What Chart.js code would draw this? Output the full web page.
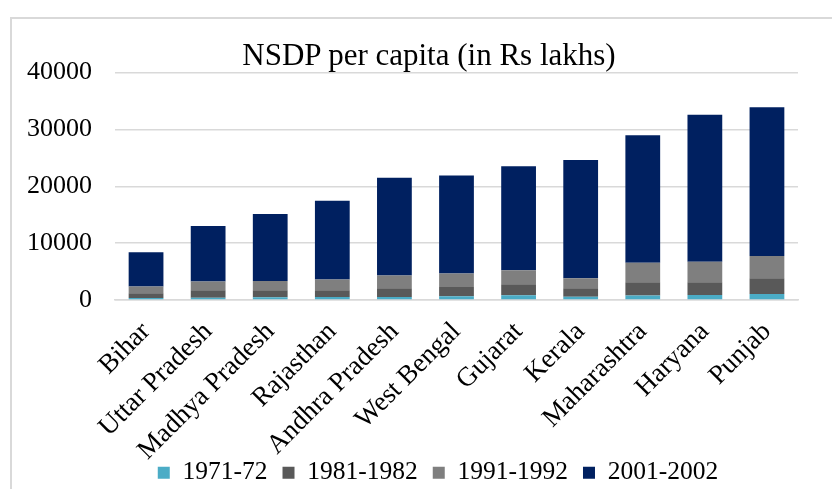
<!DOCTYPE html>
<html>
<head>
<meta charset="utf-8">
<script src="https://cdn.jsdelivr.net/npm/chart.js@4"></script>
<style>
  html, body { margin: 0; padding: 0; background: #fff; }
  body { width: 832px; height: 489px; position: relative; overflow: hidden; }
  #frame { position: absolute; left: 10px; top: 17px; width: 840px; height: 500px; border: 2px solid #d9d9d9; box-sizing: border-box; }
  #c { position: absolute; left: 0; top: 0; }
  #title { position: absolute; left: 0; top: 39px; width: 858px; text-align: center; font-family: 'Liberation Serif', 'Times New Roman', serif; font-size: 31px; line-height: 32px; color: #000; white-space: nowrap; }
</style>
</head>
<body>
<div id="frame"></div>
<canvas id="c" width="832" height="489"></canvas>
<div id="title">NSDP per capita (in Rs lakhs)</div>
<script>
const states = ["Bihar", "Uttar Pradesh", "Madhya Pradesh", "Rajasthan", "Andhra Pradesh", "West Bengal", "Gujarat", "Kerala", "Maharashtra", "Haryana", "Punjab"];
const seriesNames = ["1971-72", "1981-1982", "1991-1992", "2001-2002"];
const v1971 = [350, 410, 470, 530, 530, 650, 830, 590, 770, 880, 1060];
const v1981 = [830, 1300, 1240, 1180, 1530, 1650, 1940, 1470, 2350, 2240, 2770];
const v1991 = [1180, 1530, 1650, 1880, 2240, 2350, 2470, 1770, 3420, 3590, 3890];
const v2001 = [6040, 9760, 11740, 13860, 17200, 17250, 18260, 20770, 22410, 25840, 26180];
const yTicks = [0, 10000, 20000, 30000, 40000];
const colors = ["#4bacc6", "#595959", "#7f7f7f", "#002060"];

const FONT = "'Liberation Serif', 'Times New Roman', serif";
const seriesValues = [v1971, v1981, v1991, v2001];

// let the rotated category labels overflow into the legend band without being clipped
const unclipLabels = {
  id: 'unclipLabels',
  afterLayout(chart) {
    const x = chart.scales.x;
    if (x) { x.bottom = chart.height; }
  }
};

new Chart(document.getElementById('c'), {
  type: 'bar',
  data: {
    labels: states,
    datasets: seriesNames.map((n, i) => ({
      label: n,
      data: seriesValues[i],
      backgroundColor: colors[i],
      borderWidth: 0,
      categoryPercentage: 1,
      barPercentage: 0.56
    }))
  },
  plugins: [unclipLabels],
  options: {
    responsive: false,
    animation: false,
    layout: { padding: { left: 26, right: -18, top: 72.5, bottom: -6.5 } },
    plugins: {
      title: { display: false },
      legend: {
        position: 'bottom',
        labels: {
          color: "#000",
          font: { family: FONT, size: 25.5 },
          boxWidth: 12,
          boxHeight: 12,
          padding: 15
        }
      },
      tooltip: { enabled: false }
    },
    scales: {
      x: {
        stacked: true,
        grid: { display: false, drawTicks: false },
        border: { display: true, color: "#d9d9d9", width: 1.5 },
        ticks: {
          color: "#000",
          font: { family: FONT, size: 27 },
          minRotation: 45,
          maxRotation: 45,
          padding: 16,
          autoSkip: false
        },
        afterFit: s => { s.height = 145; }
      },
      y: {
        stacked: true,
        min: 0,
        max: 40000,
        afterBuildTicks: s => { s.ticks = yTicks.map(v => ({ value: v })); },
        grid: { color: "#d9d9d9", lineWidth: 1.5, drawTicks: false },
        border: { display: false },
        ticks: {
          color: "#000",
          font: { family: FONT, size: 26 },
          padding: 23,
          callback: v => String(v)
        },
        afterFit: s => { s.width = 89; }
      },
      yRight: {
        position: 'right',
        display: true,
        grid: { display: false, drawTicks: false },
        border: { display: false },
        ticks: { display: false },
        afterFit: s => { s.width = 52; }
      }
    }
  }
});
</script>
</body>
</html>
